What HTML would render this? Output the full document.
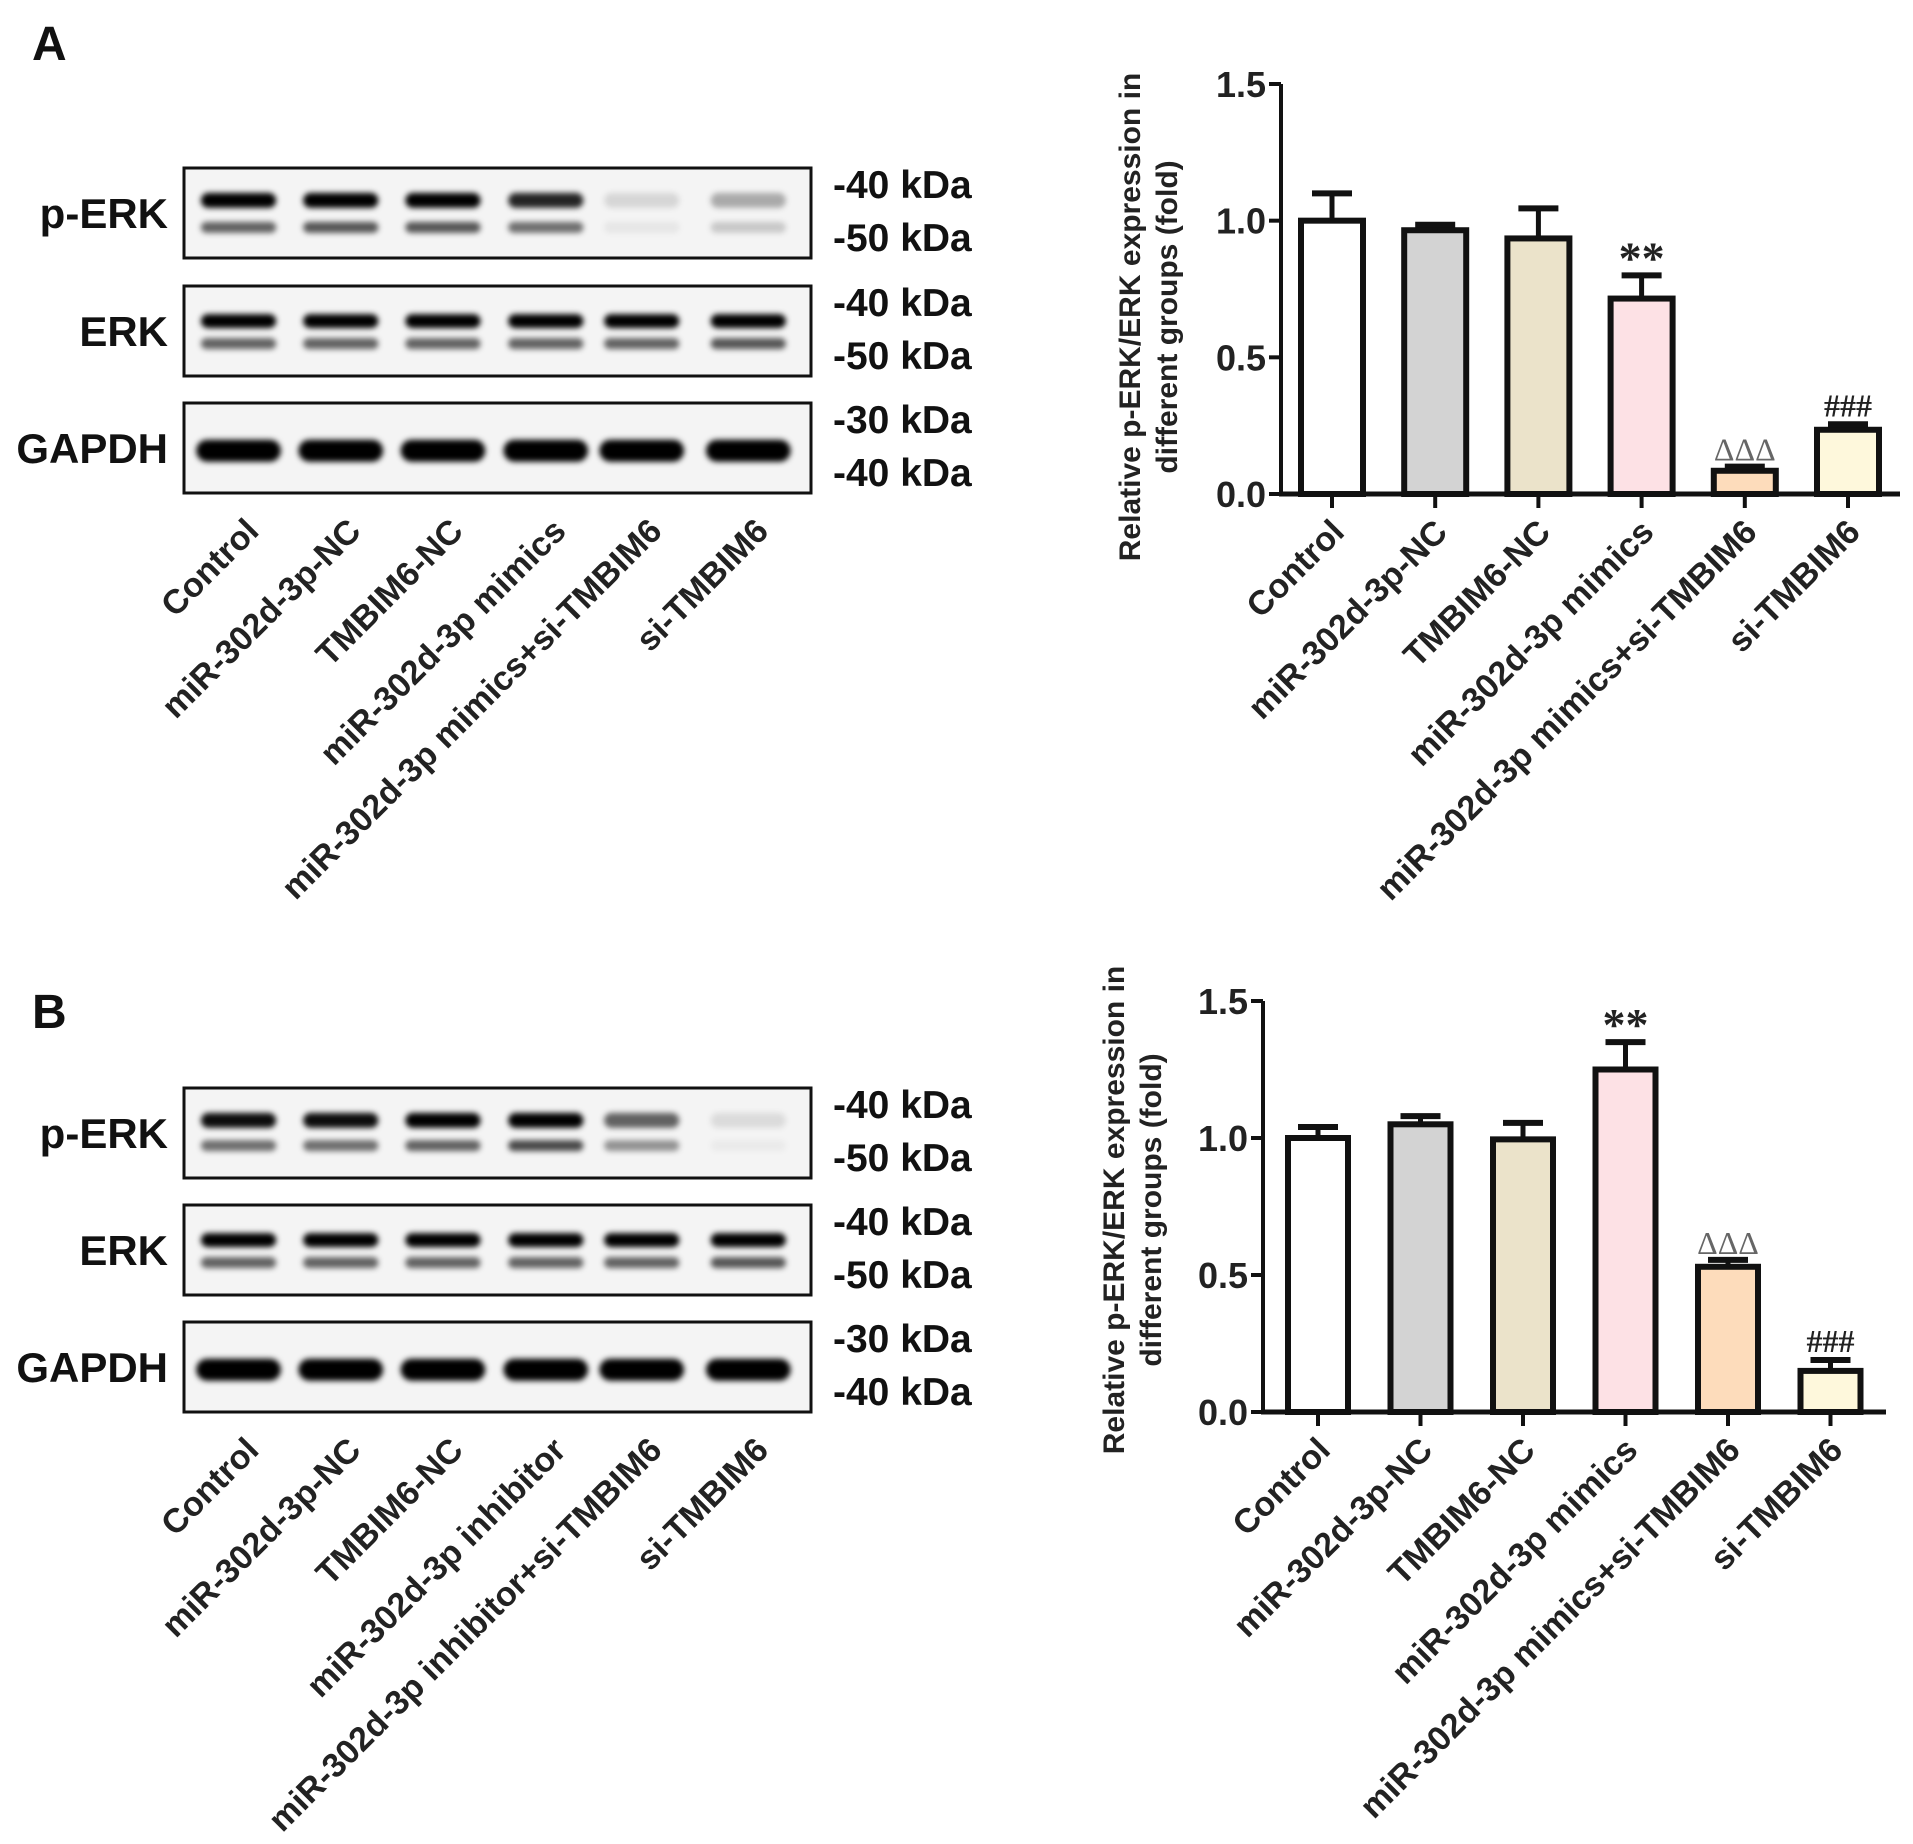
<!DOCTYPE html>
<html><head><meta charset="utf-8">
<style>
html,body{margin:0;padding:0;background:#fff;}
svg{display:block;font-family:"Liberation Sans",Arial,sans-serif;font-weight:bold;}
</style></head>
<body>
<svg id="fig" width="1913" height="1844" viewBox="0 0 1913 1844" xmlns="http://www.w3.org/2000/svg">
<defs>
<filter id="blur" x="-20%" y="-100%" width="140%" height="300%"><feGaussianBlur stdDeviation="3"/></filter>
</defs>
<g id="root"></g>
</svg>
<script>
// ---------- data ----------
const catsA = ["Control","miR-302d-3p-NC","TMBIM6-NC","miR-302d-3p mimics","miR-302d-3p mimics+si-TMBIM6","si-TMBIM6"];
const catsB = ["Control","miR-302d-3p-NC","TMBIM6-NC","miR-302d-3p mimics","miR-302d-3p mimics+si-TMBIM6","si-TMBIM6"];
const blotCatsA = ["Control","miR-302d-3p-NC","TMBIM6-NC","miR-302d-3p mimics","miR-302d-3p mimics+si-TMBIM6","si-TMBIM6"];
const blotCatsB = ["Control","miR-302d-3p-NC","TMBIM6-NC","miR-302d-3p inhibitor","miR-302d-3p inhibitor+si-TMBIM6","si-TMBIM6"];
const valsA = [1.0,0.965,0.935,0.715,0.085,0.235];
const errA = [0.10,0.02,0.11,0.085,0.015,0.02];
const valsB = [1.0,1.05,0.995,1.25,0.53,0.15];
const errB = [0.04,0.03,0.06,0.10,0.025,0.04];
const marksA = ["","","","**","ΔΔΔ","###"];
const marksB = ["","","","**","ΔΔΔ","###"];
const yTicks = [0.0,0.5,1.0,1.5];
const barColors = ["#ffffff","#d3d3d3","#ebe3ca","#fde1e5","#fddcbb","#fef8dc"];
const pErkUpA = [1,1,1,0.85,0.12,0.3];
const pErkLoA = [0.6,0.65,0.65,0.55,0.06,0.18];
const pErkUpB = [0.95,0.95,1,1,0.6,0.1];
const pErkLoB = [0.55,0.55,0.6,0.7,0.4,0.04];
const erkUp = [1,1,1,1,1,1];
const erkLo = [0.6,0.6,0.6,0.6,0.6,0.65];
const gapdh = [1,1,1,1,1,1];

const NS="http://www.w3.org/2000/svg";
const root=document.getElementById('root');
function el(tag,attrs,parent,text){const e=document.createElementNS(NS,tag);for(const k in attrs)e.setAttribute(k,attrs[k]);if(text!==undefined)e.textContent=text;(parent||root).appendChild(e);return e;}

// ---------- bar charts ----------
function chart(cfg){
  const g=el('g',{});
  
  
  const y=v=>cfg.y0-(v/1.5)*(cfg.y0-cfg.y15);
  const x=i=>cfg.xc0+i*cfg.step;
  const ya=el('line',{x1:cfg.ax,y1:cfg.y15,x2:cfg.ax,y2:cfg.y0+2,stroke:'#111','stroke-width':4},g);
  
  
  yTicks.forEach(t=>{
    el('line',{x1:cfg.ax-12,y1:y(t),x2:cfg.ax,y2:y(t),stroke:'#111','stroke-width':4},g);
    const tl=el('text',{x:cfg.ax-15,y:y(t)+13,'text-anchor':'end','font-size':36,fill:'#222'},g,t.toFixed(1));
    
    
  });
  cfg.vals.forEach((v,i)=>{
    const cx=x(i),w=cfg.bw;
    const b=el('rect',{x:cx-w/2,y:y(v),width:w,height:y(0)-y(v),fill:barColors[i],stroke:'#111','stroke-width':6},g);
    
    
    const top=y(v+cfg.err[i]);
    el('line',{x1:cx,y1:y(v),x2:cx,y2:top,stroke:'#111','stroke-width':5},g);
    el('line',{x1:cx-20,y1:top,x2:cx+20,y2:top,stroke:'#111','stroke-width':6},g);
    if(cfg.marks[i]){
      const isD=cfg.marks[i].indexOf('Δ')>=0;
      const isS=cfg.marks[i].indexOf('*')>=0;
      const m=el('text',{x:cx,y:top-(isD?6:(isS?2:8)),'text-anchor':'middle','font-size':isS?46:32,fill:isD?'#666':'#222','font-family':'"Liberation Serif",serif','font-weight':isD?'normal':'bold'},g,cfg.marks[i]);
      
      
    }
    el('line',{x1:cx,y1:y(0),x2:cx,y2:y(0)+14,stroke:'#111','stroke-width':4},g);
    const lb=el('text',{x:cx+14,y:y(0)+40,'text-anchor':'end','font-size':34,fill:'#222',transform:`rotate(-45 ${cx+14} ${y(0)+40})`},g,cfg.cats[i]);
    
    
  });
  const xa=el('line',{x1:cfg.ax-2,y1:cfg.y0,x2:cfg.xend,y2:cfg.y0,stroke:'#111','stroke-width':5},g);
  
  
  const t=el('text',{'text-anchor':'middle','font-size':30,fill:'#222',transform:`translate(${cfg.tx} ${cfg.ty}) rotate(-90)`},g);
  
  
  el('tspan',{x:0,y:0},t,'Relative p-ERK/ERK expression in');
  el('tspan',{x:0,y:37},t,'different groups (fold)');
}
chart({name:'chart-a',ax:1281,y0:494,y15:84,xc0:1332,step:103.2,bw:62,xend:1900,vals:valsA,err:errA,marks:marksA,cats:catsA,tx:1140,ty:317});
chart({name:'chart-b',ax:1263,y0:1412,y15:1001,xc0:1318,step:102.5,bw:60,xend:1886,vals:valsB,err:errB,marks:marksB,cats:catsB,tx:1124,ty:1210});

// ---------- blots ----------
function blot(cfg){
  const g=el('g',{});
  
  
  const bx=184,bw=627;
  const lanes=[0.087,0.25,0.413,0.577,0.73,0.9];
  cfg.rows.forEach(r=>{
    const bh=90;
    const box=el('rect',{x:bx,y:r.y,width:bw,height:bh,fill:'#f4f4f4',stroke:'#111','stroke-width':3},g);
    
    
    r.bands.forEach(bd=>{
      bd.vals.forEach((v,i)=>{
        const cx=bx+lanes[i]*bw,w=bd.w*bw;
        const band=el('rect',{x:cx-w/2,y:r.y+bd.pos*bh-bd.h/2,width:w,height:bd.h,rx:bd.h/2,fill:'#000','fill-opacity':v,filter:'url(#blur)'},g);
        
        
      });
    });
    const lab=el('text',{x:168,y:r.y+bh/2+15,'text-anchor':'end','font-size':42,fill:'#111'},g,r.label);
    
    
    r.kda.forEach((k,j)=>{
      const kt=el('text',{x:833,y:r.y+(j===0?30:83),'font-size':39,fill:'#111'},g,k);
      
      
    });
  });
  const bottom=cfg.rows[2].y+90;
  cfg.cats.forEach((c,i)=>{
    const cx=bx+lanes[i]*bw+22,cy=bottom+40;
    const t=el('text',{x:cx,y:cy,'text-anchor':'end','font-size':34,fill:'#222',transform:`rotate(-45 ${cx} ${cy})`},g,c);
    
    
  });
  const L=el('text',{x:32,y:cfg.ly,'font-size':48,fill:'#111'},g,cfg.letter);
  
  
}
blot({name:'blot-a',letter:'A',ly:60,cats:blotCatsA,rows:[
  {label:'p-ERK',y:168,kda:['-40 kDa','-50 kDa'],bands:[{pos:0.36,h:15,w:0.12,vals:pErkUpA},{pos:0.66,h:11,w:0.12,vals:pErkLoA}]},
  {label:'ERK',y:286,kda:['-40 kDa','-50 kDa'],bands:[{pos:0.39,h:14,w:0.12,vals:erkUp},{pos:0.64,h:11,w:0.12,vals:erkLo}]},
  {label:'GAPDH',y:403,kda:['-30 kDa','-40 kDa'],bands:[{pos:0.53,h:22,w:0.135,vals:gapdh}]}
]});
blot({name:'blot-b',letter:'B',ly:1028,cats:blotCatsB,rows:[
  {label:'p-ERK',y:1088,kda:['-40 kDa','-50 kDa'],bands:[{pos:0.36,h:15,w:0.12,vals:pErkUpB},{pos:0.64,h:11,w:0.12,vals:pErkLoB}]},
  {label:'ERK',y:1205,kda:['-40 kDa','-50 kDa'],bands:[{pos:0.39,h:14,w:0.12,vals:erkUp},{pos:0.64,h:11,w:0.12,vals:erkLo}]},
  {label:'GAPDH',y:1322,kda:['-30 kDa','-40 kDa'],bands:[{pos:0.53,h:22,w:0.135,vals:gapdh}]}
]});
</script>
</body></html>
